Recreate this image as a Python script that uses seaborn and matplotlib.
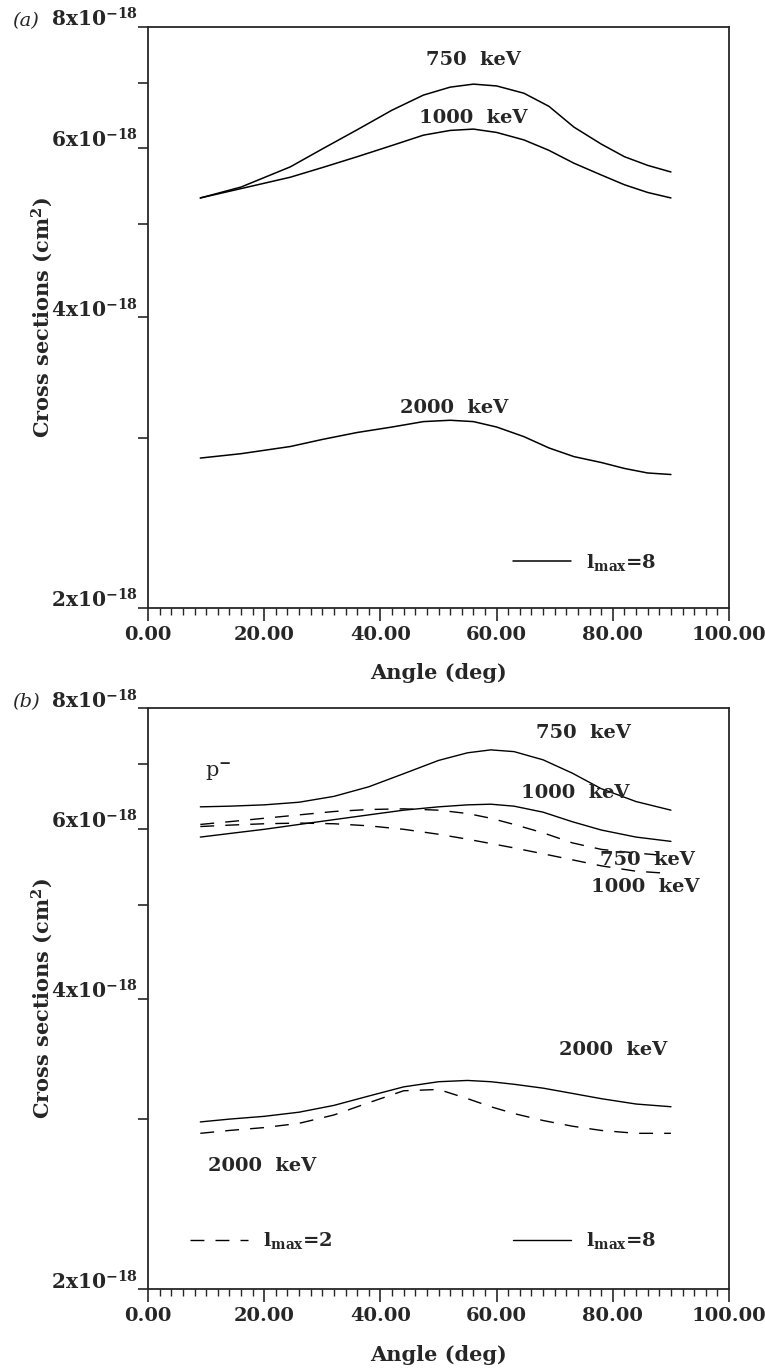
import numpy as np
import pandas as pd
import seaborn as sns
import matplotlib
matplotlib.use("Agg")
import matplotlib.pyplot as plt
from matplotlib.lines import Line2D
from matplotlib.ticker import FixedLocator, NullFormatter

# values are in units of 1e-18 cm^2
# panel (a): l_max = 8
ang_a = [9, 16, 24.5, 30, 36, 42, 47.4, 52, 56, 60, 64.7, 69, 73.3, 78, 82, 86, 90]
a_750 = [5.32, 5.46, 5.73, 5.98, 6.26, 6.56, 6.80, 6.93, 6.98, 6.95, 6.83, 6.62, 6.30, 6.05, 5.87, 5.75, 5.66]
a_1000 = [5.32, 5.44, 5.59, 5.72, 5.87, 6.03, 6.18, 6.25, 6.27, 6.22, 6.11, 5.96, 5.78, 5.62, 5.49, 5.39, 5.32]
a_2000 = [2.86, 2.89, 2.94, 2.99, 3.04, 3.08, 3.12, 3.13, 3.12, 3.08, 3.01, 2.93, 2.87, 2.83, 2.79, 2.76, 2.75]

# panel (b): p-
ang_b = [9, 14, 20, 26, 32, 38, 44, 50, 55, 59, 63, 68, 73, 78, 84, 90]
b_750_l8 = [6.32, 6.33, 6.35, 6.39, 6.48, 6.63, 6.84, 7.06, 7.19, 7.24, 7.21, 7.07, 6.85, 6.60, 6.40, 6.27]
b_1000_l8 = [5.88, 5.93, 5.99, 6.06, 6.13, 6.20, 6.27, 6.32, 6.35, 6.36, 6.33, 6.24, 6.10, 5.98, 5.88, 5.82]
b_750_l2 = [6.06, 6.10, 6.15, 6.20, 6.25, 6.28, 6.29, 6.27, 6.22, 6.15, 6.06, 5.94, 5.80, 5.71, 5.66, 5.62]
b_1000_l2 = [6.03, 6.05, 6.07, 6.08, 6.07, 6.04, 5.99, 5.92, 5.85, 5.79, 5.73, 5.65, 5.57, 5.49, 5.42, 5.39]
b_2000_l8 = [2.98, 3.00, 3.02, 3.05, 3.10, 3.17, 3.24, 3.28, 3.29, 3.28, 3.26, 3.23, 3.19, 3.15, 3.11, 3.09]
b_2000_l2 = [2.90, 2.92, 2.94, 2.97, 3.03, 3.12, 3.21, 3.22, 3.15, 3.09, 3.04, 2.99, 2.95, 2.92, 2.90, 2.90]

y_major = [2, 4, 6, 8]
y_minor = [3, 5, 7]
y_labels = ["2x10$^{-18}$", "4x10$^{-18}$", "6x10$^{-18}$", "8x10$^{-18}$"]
x_major = [0, 20, 40, 60, 80, 100]

sns.set_style("ticks")
plt.rcParams["font.family"] = ["DejaVu Serif"]
plt.rcParams["mathtext.fontset"] = "dejavuserif"
plt.rcParams["font.weight"] = "bold"
plt.rcParams["mathtext.default"] = "bf"

fig = plt.figure(figsize=(7.65, 13.69), dpi=100)
ax_a = fig.add_axes([0.1935, 0.5559, 0.7595, 0.4244])
ax_b = fig.add_axes([0.1935, 0.0584, 0.7595, 0.4244])

DASH = (10, 8)
FS = 14


def long_df(angles, series):
    rows = []
    for name, vals in series.items():
        for a, v in zip(angles, vals):
            rows.append({"angle": a, "cs": v, "curve": name})
    return pd.DataFrame(rows)


def style_axes(ax, tag):
    ax.set_yscale("log")
    ax.set_xlim(0, 100)
    ax.set_ylim(2, 8)
    ax.yaxis.set_major_locator(FixedLocator(y_major))
    ax.yaxis.set_minor_locator(FixedLocator(y_minor))
    ax.set_yticklabels(y_labels)
    ax.yaxis.set_minor_formatter(NullFormatter())
    ax.set_xticks(x_major)
    ax.set_xticklabels([f"{v:.2f}" for v in x_major])
    ax.set_xticks(np.arange(0, 101, 2), minor=True)
    ax.tick_params(axis="x", which="major", direction="out", length=9, width=1.2,
                   labelsize=14, pad=4)
    ax.tick_params(axis="x", which="minor", direction="out", length=5, width=1.0)
    ax.tick_params(axis="y", which="both", direction="out", length=7, width=1.2,
                   labelsize=14.5, pad=0.5)
    for lbl in ax.get_yticklabels():
        lbl.set_verticalalignment("baseline")
    for s in ax.spines.values():
        s.set_visible(True)
        s.set_linewidth(1.3)
    ax.set_xlabel("Angle (deg)", fontsize=15, fontweight="bold", labelpad=14)
    ax.set_ylabel("Cross sections (cm$^2$)", fontsize=15, fontweight="bold")
    ax.yaxis.set_label_coords(-0.16, 0.5)
    ax.text(-0.234, 1.01, tag, transform=ax.transAxes, fontsize=14,
            fontstyle="italic", fontweight="normal", va="center", ha="left")


def add_key(ax, handle, text, x0, y0):
    return ax.legend([handle], [text], loc="center left", bbox_to_anchor=(x0, y0),
                     frameon=False, handlelength=3.0, handletextpad=0.75,
                     borderpad=0, borderaxespad=0, fontsize=FS)


# panel (a)
df_a = long_df(ang_a, {"750": a_750, "1000": a_1000, "2000": a_2000})
sns.lineplot(data=df_a, x="angle", y="cs", units="curve", estimator=None,
             color="black", lw=1.1, ax=ax_a, legend=False)
style_axes(ax_a, "(a)")
ax_a.text(56, 7.39, "750  keV", ha="center", va="center", fontsize=FS)
ax_a.text(56, 6.44, "1000  keV", ha="center", va="center", fontsize=FS)
ax_a.text(52.6, 3.22, "2000  keV", ha="center", va="center", fontsize=FS)
add_key(ax_a, Line2D([], [], color="black", lw=1.1), "l$_{max}$=8", 0.6276, 0.079)

# panel (b)
df_b8 = long_df(ang_b, {"750": b_750_l8, "1000": b_1000_l8, "2000": b_2000_l8})
df_b2 = long_df(ang_b, {"750": b_750_l2, "1000": b_1000_l2, "2000": b_2000_l2})
sns.lineplot(data=df_b8, x="angle", y="cs", units="curve", estimator=None,
             color="black", lw=1.0, ax=ax_b, legend=False)
sns.lineplot(data=df_b2, x="angle", y="cs", units="curve", estimator=None,
             color="black", lw=1.0, ax=ax_b, legend=False, dashes=False,
             linestyle=(0, DASH))
style_axes(ax_b, "(b)")
ax_b.text(12.0, 6.87, "p$^{-}$", ha="center", va="center", fontsize=15,
          fontweight="normal")
ax_b.text(75, 7.54, "750  keV", ha="center", va="center", fontsize=FS)
ax_b.text(73.6, 6.53, "1000  keV", ha="center", va="center", fontsize=FS)
ax_b.text(86, 5.57, "750  keV", ha="center", va="center", fontsize=FS)
ax_b.text(85.5, 5.22, "1000  keV", ha="center", va="center", fontsize=FS)
ax_b.text(80, 3.54, "2000  keV", ha="center", va="center", fontsize=FS)
ax_b.text(19.6, 2.68, "2000  keV", ha="center", va="center", fontsize=FS)
leg2 = add_key(ax_b, Line2D([], [], color="black", lw=1.0, linestyle=(0, DASH)),
               "l$_{max}$=2", 0.0724, 0.083)
ax_b.add_artist(leg2)
add_key(ax_b, Line2D([], [], color="black", lw=1.0), "l$_{max}$=8", 0.6276, 0.083)

fig.savefig("out.png", dpi=100)
